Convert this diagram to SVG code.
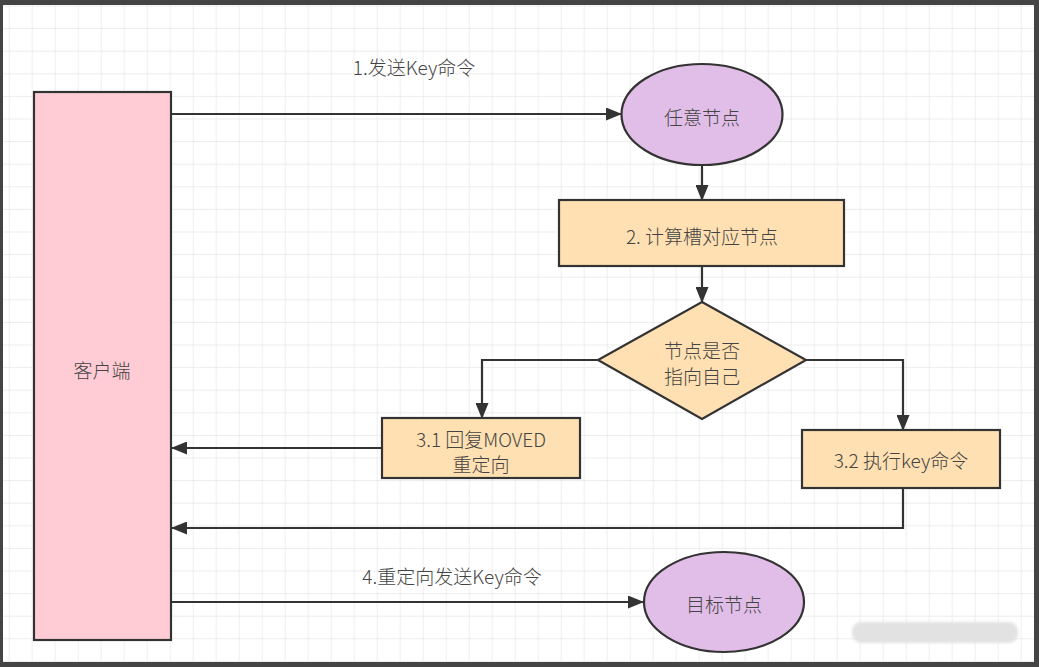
<svg xmlns="http://www.w3.org/2000/svg" width="1039" height="667" viewBox="0 0 1039 667">
<defs>
<pattern id="grid" x="8.7" y="5.5" width="23" height="22.6" patternUnits="userSpaceOnUse">
<path d="M0,0 V22.6 M0,0 H23" fill="none" stroke="#e6e6e6" stroke-width="1.3"/>
</pattern>
<marker id="ah" markerWidth="16" markerHeight="13" refX="15" refY="6.5" orient="auto" markerUnits="userSpaceOnUse">
<path d="M0,0 L16,6.5 L0,13 Z" fill="#333"/>
</marker>
<filter id="blur" x="-10%" y="-50%" width="120%" height="200%"><feGaussianBlur stdDeviation="1.5"/></filter>
<style>
.t{font-family:"Noto Sans CJK SC","Liberation Sans",sans-serif;font-size:19px;font-weight:300;fill:#444;text-anchor:middle;dominant-baseline:central}
.s{stroke:#333;stroke-width:2.2}
.c{fill:none;stroke:#333;stroke-width:2.2}
</style>
</defs>
<rect width="1039" height="667" fill="#444"/>
<rect x="3" y="5" width="1031" height="657" fill="#fff"/>
<rect x="3" y="5" width="1031" height="657" fill="url(#grid)"/>
<g id="connectors">
<path class="c" d="M171,114 H621" marker-end="url(#ah)"/>
<path class="c" d="M702,165 V200" marker-end="url(#ah)"/>
<path class="c" d="M702,267 V302" marker-end="url(#ah)"/>
<path class="c" d="M598,360 H482 V418" marker-end="url(#ah)"/>
<path class="c" d="M806,360 H903 V430" marker-end="url(#ah)"/>
<path class="c" d="M382,448 H172" marker-end="url(#ah)"/>
<path class="c" d="M903,488 V528 H172" marker-end="url(#ah)"/>
<path class="c" d="M171,602 H643" marker-end="url(#ah)"/>
<text class="t" x="414" y="66">1.发送Key命令</text>
<text class="t" x="452" y="575">4.重定向发送Key命令</text>
</g>
<g id="client">
<rect class="s" x="34" y="92" width="137" height="548" fill="#ffccd5"/>
<text class="t" x="102" y="369">客户端</text>
</g>
<g id="any-node">
<ellipse class="s" cx="702" cy="114.5" rx="80.5" ry="50.5" fill="#e1bee7"/>
<text class="t" x="702" y="116">任意节点</text>
</g>
<g id="calc-slot">
<rect class="s" x="559" y="200" width="285" height="66" fill="#ffe0b2"/>
<text class="t" x="702" y="235">2. 计算槽对应节点</text>
</g>
<g id="decision">
<polygon class="s" points="702,302 806,360 702,419 598,360" fill="#ffe0b2"/>
<text class="t" x="702" y="349">节点是否</text>
<text class="t" x="702" y="375">指向自己</text>
</g>
<g id="moved">
<rect class="s" x="382" y="418" width="198" height="60" fill="#ffe0b2"/>
<text class="t" x="481" y="438">3.1 回复MOVED</text>
<text class="t" x="481" y="463">重定向</text>
</g>
<g id="exec">
<rect class="s" x="802" y="430" width="198" height="58" fill="#ffe0b2"/>
<text class="t" x="901" y="459">3.2 执行key命令</text>
</g>
<g id="target-node">
<ellipse class="s" cx="724" cy="602" rx="80" ry="50" fill="#e1bee7"/>
<text class="t" x="724" y="603">目标节点</text>
</g>
<rect x="852" y="622" width="166" height="21" rx="9" fill="#e2e2e2" filter="url(#blur)"/>
</svg>
